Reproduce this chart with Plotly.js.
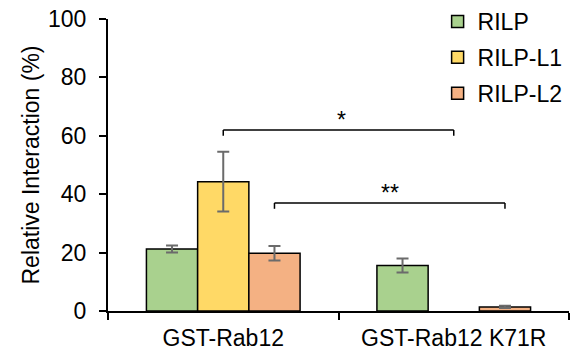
<!DOCTYPE html>
<html>
<head>
<meta charset="utf-8">
<script src="https://cdn.plot.ly/plotly-3.0.1.min.js"></script>
<style>html,body{margin:0;padding:0;background:#fff;}#chart{width:573px;height:350px;}</style>
</head>
<body>
<div id="chart"></div>
<script>
const categories = ['GST-Rab12', 'GST-Rab12 K71R'];
const seriesNames = ['RILP', 'RILP-L1', 'RILP-L2'];
const rilpValues = [21.2, 15.6];
const rilpErrors = [1.2, 2.4];
const rilpL1Values = [44.3, null];
const rilpL1Errors = [10.2, 0];
const rilpL2Values = [19.8, 1.4];
const rilpL2Errors = [2.5, 0.4];
const seriesColors = ['#A9D18E', '#FFD966', '#F4B183'];
const yTickValues = [0, 20, 40, 60, 80, 100];

// significance brackets: series index compared across categories
const sigLabels = ['*', '**'];
const sigSeries = [1, 2];
const sigLevels = [62, 37];

const FONT = 'Liberation Sans, Arial, sans-serif';
const bargap = 1 / 3;
const nSeries = seriesNames.length;
const barW = (1 - bargap) / nSeries;

const values = [rilpValues, rilpL1Values, rilpL2Values];
const errors = [rilpErrors, rilpL1Errors, rilpL2Errors];

const traces = seriesNames.map((name, i) => ({
  type: 'bar',
  name: name,
  x: categories,
  y: values[i],
  marker: { color: seriesColors[i], line: { color: '#000', width: 1.5 } },
  error_y: { type: 'data', array: errors[i], visible: true, color: '#6b6b6b', thickness: 2, width: 6 },
  legendgroup: name
}));

const shapes = [];
const annotations = [];
sigLabels.forEach((lab, k) => {
  const off = (sigSeries[k] - (nSeries - 1) / 2) * barW;
  const xa = 0 + off, xb = 1 + off, yv = sigLevels[k], drop = 2;
  const ln = { color: '#000', width: 1.5 };
  shapes.push({ type: 'line', xref: 'x', yref: 'y', x0: xa, x1: xb, y0: yv, y1: yv, line: ln });
  shapes.push({ type: 'line', xref: 'x', yref: 'y', x0: xa, x1: xa, y0: yv, y1: yv - drop, line: ln });
  shapes.push({ type: 'line', xref: 'x', yref: 'y', x0: xb, x1: xb, y0: yv, y1: yv - drop, line: ln });
  annotations.push({ xref: 'x', yref: 'y', x: (xa + xb) / 2, y: yv, text: lab, showarrow: false,
    yanchor: 'bottom', yshift: -5, xshift: k === 0 ? 3 : 0, font: { family: FONT, size: 23, color: '#000' } });
});

const layout = {
  width: 573, height: 350,
  margin: { l: 108, r: 4, t: 19, b: 39, pad: 0, autoexpand: false },
  paper_bgcolor: '#fff', plot_bgcolor: '#fff',
  font: { family: FONT, size: 23, color: '#000' },
  barmode: 'group', bargap: bargap, bargroupgap: 0,
  showlegend: true,
  legend: { x: 0.715, xref: 'paper', y: 1.0, yref: 'container', xanchor: 'left', yanchor: 'top',
    traceorder: 'grouped', tracegroupgap: 3,
    font: { family: FONT, size: 23, color: '#000' }, bgcolor: 'rgba(0,0,0,0)' },
  xaxis: { type: 'category', range: [-0.5, 1.5], showline: true, linecolor: '#000', linewidth: 2,
    ticks: 'outside', tickson: 'boundaries', ticklen: 7, tickwidth: 2, tickcolor: '#000',
    ticklabelstandoff: 5, automargin: false,
    showgrid: false, zeroline: false, tickfont: { family: FONT, size: 23, color: '#000' }, fixedrange: true },
  yaxis: { range: [0, 100], tickvals: yTickValues, showline: true, linecolor: '#000', linewidth: 2,
    ticks: 'outside', ticklen: 7, tickwidth: 2, tickcolor: '#000', showgrid: false, zeroline: false,
    ticklabelstandoff: 8, automargin: false,
    tickfont: { family: FONT, size: 23, color: '#000' },
    title: { text: 'Relative Interaction (%)', font: { family: FONT, size: 23, color: '#000' }, standoff: 2 },
    fixedrange: true },
  shapes: shapes,
  annotations: annotations
};

Plotly.newPlot('chart', traces, layout, { displayModeBar: false, staticPlot: true });
</script>
</body>
</html>
